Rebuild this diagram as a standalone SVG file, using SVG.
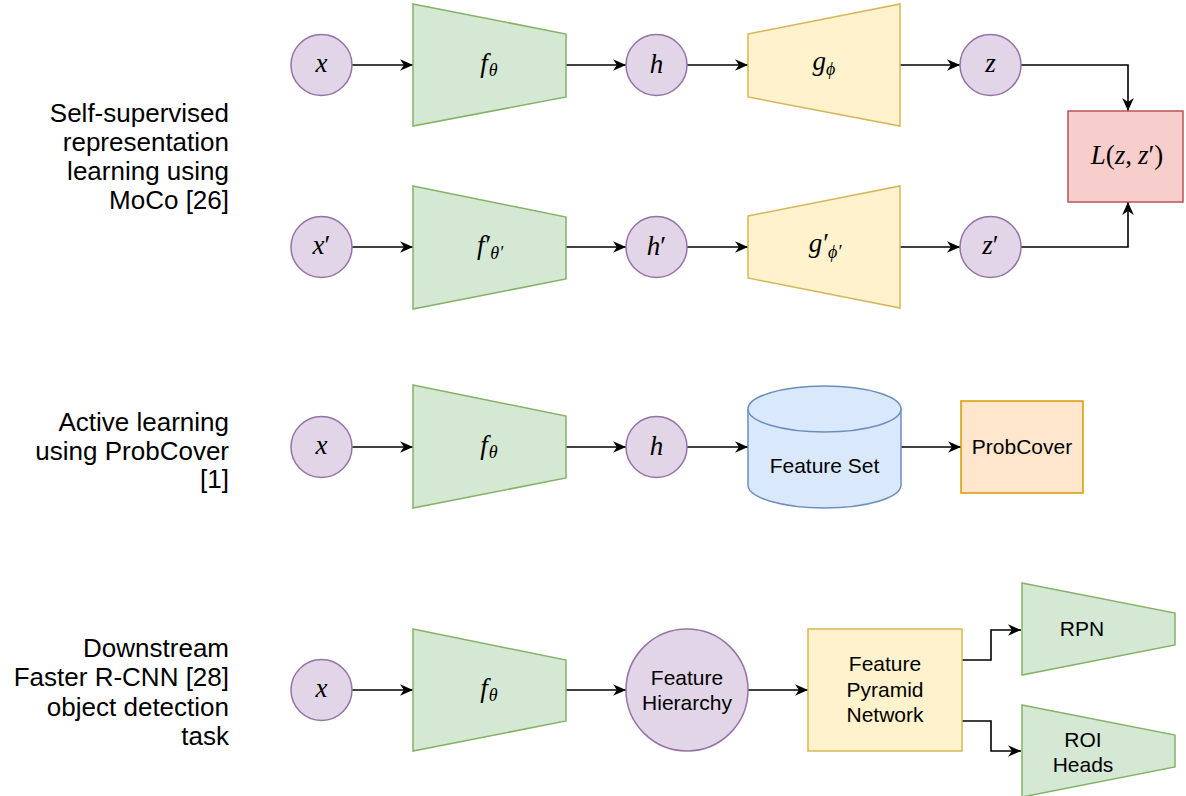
<svg xmlns="http://www.w3.org/2000/svg" width="1186" height="796" viewBox="0 0 1186 796">
<defs>
<style>
.bg{fill:#ffffff}
.pur{fill:#e1d5e7;stroke:#9673a6;stroke-width:1.5}
.grn{fill:#d5e8d4;stroke:#82b366;stroke-width:1.5}
.yel{fill:#fff2cc;stroke:#d6b656;stroke-width:1.5}
.red{fill:#f8cecc;stroke:#b85450;stroke-width:1.5}
.blu{fill:#dae8fc;stroke:#6c8ebf;stroke-width:1.5}
.org{fill:#ffe6cc;stroke:#d79b00;stroke-width:1.5}
.edge{fill:none;stroke:#000000;stroke-width:1.6;marker-end:url(#arr)}
.lbl{font-family:"Liberation Sans",Arial,sans-serif;font-size:26px;fill:#000;text-anchor:end}
.t{font-family:"Liberation Sans",Arial,sans-serif;font-size:21px;fill:#000;text-anchor:middle}
.m{font-family:"Liberation Serif","Times New Roman",serif;font-style:italic;font-size:27px;fill:#000;text-anchor:middle}
.sub{font-size:18px}
.up{font-style:normal}
</style>
<marker id="arr" viewBox="0 0 10 9" refX="10" refY="4.5" markerWidth="13" markerHeight="11.7" markerUnits="userSpaceOnUse" orient="auto">
<path d="M0,0 L10,4.5 L0,9 L3,4.5 Z" fill="#000"/>
</marker>
</defs>
<rect class="bg" x="0" y="0" width="1186" height="796"/>

<g id="labels">
<text class="lbl" x="229" y="122">Self-supervised</text>
<text class="lbl" x="229" y="151">representation</text>
<text class="lbl" x="229" y="180">learning using</text>
<text class="lbl" x="229" y="209">MoCo [26]</text>
<text class="lbl" x="229" y="431">Active learning</text>
<text class="lbl" x="229" y="460">using ProbCover</text>
<text class="lbl" x="229" y="488">[1]</text>
<text class="lbl" x="229" y="657">Downstream</text>
<text class="lbl" x="229" y="686">Faster R-CNN [28]</text>
<text class="lbl" x="229" y="716">object detection</text>
<text class="lbl" x="229" y="745">task</text>
</g>

<g id="connectors">
<line class="edge" x1="352" y1="65" x2="413" y2="65"/>
<line class="edge" x1="566" y1="65" x2="626" y2="65"/>
<line class="edge" x1="687" y1="65" x2="748" y2="65"/>
<line class="edge" x1="900" y1="65" x2="960" y2="65"/>
<path class="edge" d="M1021,65 H1128 V111"/>
<line class="edge" x1="352" y1="247" x2="413" y2="247"/>
<line class="edge" x1="566" y1="247" x2="626" y2="247"/>
<line class="edge" x1="687" y1="247" x2="748" y2="247"/>
<line class="edge" x1="900" y1="247" x2="960" y2="247"/>
<path class="edge" d="M1021,247 H1128 V202"/>
<line class="edge" x1="352" y1="447" x2="413" y2="447"/>
<line class="edge" x1="566" y1="447" x2="626" y2="447"/>
<line class="edge" x1="687" y1="447" x2="748" y2="447"/>
<line class="edge" x1="901" y1="447" x2="961" y2="447"/>
<line class="edge" x1="352" y1="690" x2="413" y2="690"/>
<line class="edge" x1="566" y1="690" x2="626" y2="690"/>
<line class="edge" x1="748" y1="690" x2="808" y2="690"/>
<path class="edge" d="M962,660 H991 V630 H1021"/>
<path class="edge" d="M962,721 H991 V751 H1021"/>
</g>

<!-- Row 1 -->
<g id="x1"><circle class="pur" cx="321.5" cy="65" r="30.5"/><text class="m" x="321.5" y="72">x</text></g>
<g id="f1"><polygon class="grn" points="413,4 566,34 566,97 413,126"/><text class="m" x="489" y="72">f<tspan class="sub" dx="1" dy="4">θ</tspan></text></g>
<g id="h1"><circle class="pur" cx="656.5" cy="65" r="30.5"/><text class="m" x="656.5" y="73">h</text></g>
<g id="g1"><polygon class="yel" points="748,34 900,4 900,126 748,97"/><text class="m" x="824" y="70">g<tspan class="sub" dy="5">ϕ</tspan></text></g>
<g id="z1"><circle class="pur" cx="990.5" cy="65" r="30.5"/><text class="m" x="990.5" y="72">z</text></g>
<g id="loss"><rect class="red" x="1068" y="111" width="115" height="91"/><text class="m" x="1127" y="164">L<tspan class="up">(</tspan>z<tspan class="up">,</tspan><tspan dx="6">z</tspan><tspan class="up">′)</tspan></text></g>

<!-- Row 2 -->
<g id="x2"><circle class="pur" cx="321.5" cy="247" r="30.5"/><text class="m" x="321.5" y="254">x<tspan class="up">′</tspan></text></g>
<g id="f2"><polygon class="grn" points="413,186 566,217 566,279 413,309"/><text class="m" x="490" y="254">f<tspan class="up" dx="1">′</tspan><tspan class="sub" dx="-1" dy="5">θ′</tspan></text></g>
<g id="h2"><circle class="pur" cx="656.5" cy="247" r="30.5"/><text class="m" x="656.5" y="255">h<tspan class="up">′</tspan></text></g>
<g id="g2"><polygon class="yel" points="748,216 900,186 900,308 748,278"/><text class="m" x="825" y="252">g<tspan class="up" dx="1">′</tspan><tspan class="sub" dx="-1" dy="6">ϕ′</tspan></text></g>
<g id="z2"><circle class="pur" cx="990.5" cy="247" r="30.5"/><text class="m" x="990.5" y="254">z<tspan class="up">′</tspan></text></g>

<!-- Row 3 -->
<g id="x3"><circle class="pur" cx="321.5" cy="447" r="30.5"/><text class="m" x="321.5" y="454">x</text></g>
<g id="f3"><polygon class="grn" points="413,385 566,416 566,478 413,508"/><text class="m" x="489" y="454">f<tspan class="sub" dx="1" dy="4">θ</tspan></text></g>
<g id="h3"><circle class="pur" cx="656.5" cy="447" r="30.5"/><text class="m" x="656.5" y="455">h</text></g>
<g id="featset"><path class="blu" d="M748,409 A76.5,23 0 0 1 901,409 V485 A76.5,23 0 0 1 748,485 Z"/><path class="blu" fill="none" d="M748,409 A76.5,23 0 0 0 901,409"/><text class="t" x="824.5" y="473">Feature Set</text></g>
<g id="probcover"><rect class="org" x="961" y="401" width="122" height="92"/><text class="t" x="1022" y="454">ProbCover</text></g>

<!-- Row 4 -->
<g id="x4"><circle class="pur" cx="321.5" cy="690" r="30.5"/><text class="m" x="321.5" y="697">x</text></g>
<g id="f4"><polygon class="grn" points="413,629 566,660 566,721 413,751"/><text class="m" x="489" y="697">f<tspan class="sub" dx="1" dy="4">θ</tspan></text></g>
<g id="fh"><circle class="pur" cx="687" cy="690" r="61"/><text class="t" x="687" y="685">Feature</text><text class="t" x="687" y="710">Hierarchy</text></g>
<g id="fpn"><rect class="yel" x="808" y="629" width="154" height="122"/><text class="t" x="885" y="671">Feature</text><text class="t" x="885" y="697">Pyramid</text><text class="t" x="885" y="722">Network</text></g>
<g id="rpn"><polygon class="grn" points="1022,583 1175,613 1175,645 1022,675"/><text class="t" x="1082" y="636">RPN</text></g>
<g id="roi"><polygon class="grn" points="1022,705 1175,735 1175,767 1022,797"/><text class="t" x="1083" y="747">ROI</text><text class="t" x="1083" y="772">Heads</text></g>
</svg>
